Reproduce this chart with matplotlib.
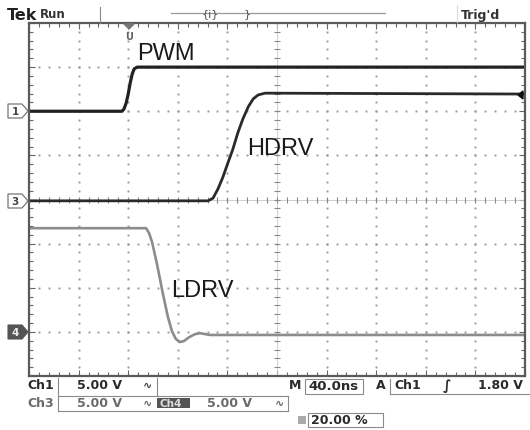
import numpy as np
import matplotlib
matplotlib.use("Agg")
import matplotlib.pyplot as plt
from matplotlib.patches import Polygon, Rectangle

# screen units: 10 horizontal divisions (40 ns/div), 8 vertical divisions
pwm_t = [0, 1.875, 1.915, 1.96, 2.0, 2.04, 2.08, 2.12, 2.18, 10]
pwm_y = [6.0, 6.0, 6.05, 6.19, 6.39, 6.64, 6.84, 6.96, 7.0, 7.0]

hdrv_t = [0, 3.61, 3.71, 3.81, 3.91, 4.01, 4.11, 4.21, 4.31, 4.42, 4.52, 4.62, 4.76, 10]
hdrv_y = [3.97, 3.97, 4.03, 4.24, 4.51, 4.83, 5.14, 5.51, 5.82, 6.10, 6.28, 6.37, 6.41, 6.39]

ldrv_t = [0, 2.36, 2.42, 2.48, 2.58, 2.70, 2.80, 2.88, 2.96, 3.04, 3.12, 3.23, 3.35, 3.45, 3.65, 10]
ldrv_y = [3.35, 3.35, 3.24, 3.04, 2.54, 1.86, 1.34, 1.02, 0.84, 0.77, 0.79, 0.88, 0.95, 0.97, 0.93, 0.93]

labels = ["PWM", "HDRV", "LDRV"]

W, H = 530, 431
fig = plt.figure(figsize=(W / 100, H / 100), dpi=100)
ax = fig.add_axes([29 / W, 54 / H, 496 / W, 353 / H])
ax.set_xlim(0, 10)
ax.set_ylim(0, 8)

# graticule
xminor = np.arange(0, 10.001, 0.2)
yminor = np.arange(0, 8.001, 0.2)
for xi in range(1, 10):
    if xi != 5:
        ax.plot([xi] * len(yminor), yminor, "s", ms=1.4, mew=0, color="#9a9a9a")
for yi in range(1, 8):
    if yi != 4:
        ax.plot(xminor, [yi] * len(xminor), "s", ms=1.4, mew=0, color="#9a9a9a")
ax.axhline(4, color="#c8c8c8", lw=0.6)
ax.axvline(5, color="#c8c8c8", lw=0.6)
ax.plot(xminor, [4] * len(xminor), "|", ms=5, mew=0.8, color="#888888")
ax.plot([5] * len(yminor), yminor, "_", ms=5, mew=0.8, color="#888888")

ax.set_xticks(range(11))
ax.set_yticks(range(9))
ax.set_xticks(xminor, minor=True)
ax.set_yticks(yminor, minor=True)
ax.tick_params(which="both", direction="in", top=True, right=True,
               labelbottom=False, labelleft=False, color="#666666")
ax.tick_params(which="major", length=4, width=0.8)
ax.tick_params(which="minor", length=3, width=0.8)
for s in ax.spines.values():
    s.set_color("#5a5a5a")
    s.set_linewidth(1.6)

# traces
ax.plot(pwm_t, pwm_y, color="#222222", lw=2.3, solid_joinstyle="round")
ax.plot(hdrv_t, hdrv_y, color="#2a2a2a", lw=2.0, solid_joinstyle="round")
ax.plot(ldrv_t, ldrv_y, color="#8c8c8c", lw=1.9, solid_joinstyle="round")

# overlay in pixel coordinates for the scope annotations
ov = fig.add_axes([0, 0, 1, 1])
ov.set_xlim(0, W)
ov.set_ylim(H, 0)
ov.axis("off")

lab_font = dict(family="Liberation Sans", fontsize=17, color="#1a1a1a", va="center", ha="left")
ov.text(137, 54, labels[0], **lab_font)
ov.text(247, 149, labels[1], **lab_font)
ov.text(171, 291, labels[2], **lab_font)

ui = dict(family="DejaVu Sans", fontweight="bold", va="center", ha="left")
ov.text(7, 15, "Tek", fontsize=11.5, color="#222222", **ui)
ov.text(40, 14, "Run", fontsize=8.5, color="#333333", **ui)
ov.text(461, 15, "Trig'd", fontsize=9, color="#333333", **ui)
ov.plot([100, 100], [8, 24], color="#888888", lw=0.8)
ov.plot([457, 457], [6, 23], color="#dddddd", lw=0.8)
ov.plot([171, 385], [14, 14], color="#999999", lw=0.9)
ov.text(210, 14, "{i}", fontsize=8, color="#555555", ha="center", va="center")
ov.text(247, 14, "}", fontsize=8, color="#555555", ha="center", va="center")

# trigger position marker
ov.add_patch(Polygon([[124, 25], [134, 25], [129, 30]], closed=True, color="#777777"))
ov.text(129, 37, "U", fontsize=7, fontweight="bold", color="#666666", ha="center", va="center")
# trigger level marker at right
ov.add_patch(Polygon([[518, 96], [523, 92], [523, 100]], closed=True, color="#111111"))

# channel ground markers
def chan_marker(yc, txt, filled):
    pts = [[8, yc - 7], [22, yc - 7], [28, yc], [22, yc + 7], [8, yc + 7]]
    if filled:
        ov.add_patch(Polygon(pts, closed=True, fc="#555555", ec="#555555", lw=0.8))
        ov.text(15, yc, txt, fontsize=7.5, fontweight="bold", color="#eeeeee", ha="center", va="center")
    else:
        ov.add_patch(Polygon(pts, closed=True, fc="white", ec="#777777", lw=0.9))
        ov.text(15, yc, txt, fontsize=7.5, fontweight="bold", color="#444444", ha="center", va="center")

chan_marker(112, "1", False)
chan_marker(202, "3", False)
chan_marker(333, "4", True)

# readout area
box_c = "#8a8a8a"
ov.plot([58, 58], [379, 412], color=box_c, lw=0.8)
ov.plot([58, 288], [397, 397], color=box_c, lw=0.8)
ov.plot([157, 157], [379, 397], color=box_c, lw=0.8)
ov.plot([58, 288], [412, 412], color=box_c, lw=0.8)
ov.plot([288, 288], [397, 412], color=box_c, lw=0.8)

ov.text(27, 386, "Ch1", fontsize=9, color="#2a2a2a", **ui)
ov.text(77, 386, "5.00 V", fontsize=9, color="#2a2a2a", **ui)
ov.text(143, 386, "∿", fontsize=8, color="#444444", **ui)
ov.text(27, 404, "Ch3", fontsize=9, color="#6a6a6a", **ui)
ov.text(77, 404, "5.00 V", fontsize=9, color="#6a6a6a", **ui)
ov.text(143, 404, "∿", fontsize=8, color="#666666", **ui)
ov.add_patch(Rectangle((157, 399), 33, 10, fc="#555555", ec="none"))
ov.text(159, 404, "Ch4", fontsize=7.5, color="#dddddd", **ui)
ov.text(207, 404, "5.00 V", fontsize=9, color="#6a6a6a", **ui)
ov.text(275, 404, "∿", fontsize=8, color="#666666", **ui)

ov.text(289, 386, "M", fontsize=9, color="#2a2a2a", **ui)
ov.add_patch(Rectangle((305, 380), 58, 15, fc="none", ec=box_c, lw=0.8))
ov.text(308, 387, "40.0ns", fontsize=9.5, color="#2a2a2a", **ui)
ov.text(376, 386, "A", fontsize=9, color="#2a2a2a", **ui)
ov.plot([390, 390], [380, 395], color=box_c, lw=0.8)
ov.plot([390, 530], [395, 395], color=box_c, lw=0.8)
ov.text(394, 386, "Ch1", fontsize=9, color="#2a2a2a", **ui)
ov.text(443, 386, "∫", fontsize=10, color="#2a2a2a", **ui)
ov.text(478, 386, "1.80 V", fontsize=9, color="#2a2a2a", **ui)

ov.add_patch(Rectangle((298, 417), 8, 8, fc="#aaaaaa", ec="none"))
ov.add_patch(Rectangle((308, 414), 75, 14, fc="none", ec=box_c, lw=0.8))
ov.text(311, 421, "20.00 %", fontsize=9, color="#2a2a2a", **ui)

fig.savefig("out.png", dpi=100)
